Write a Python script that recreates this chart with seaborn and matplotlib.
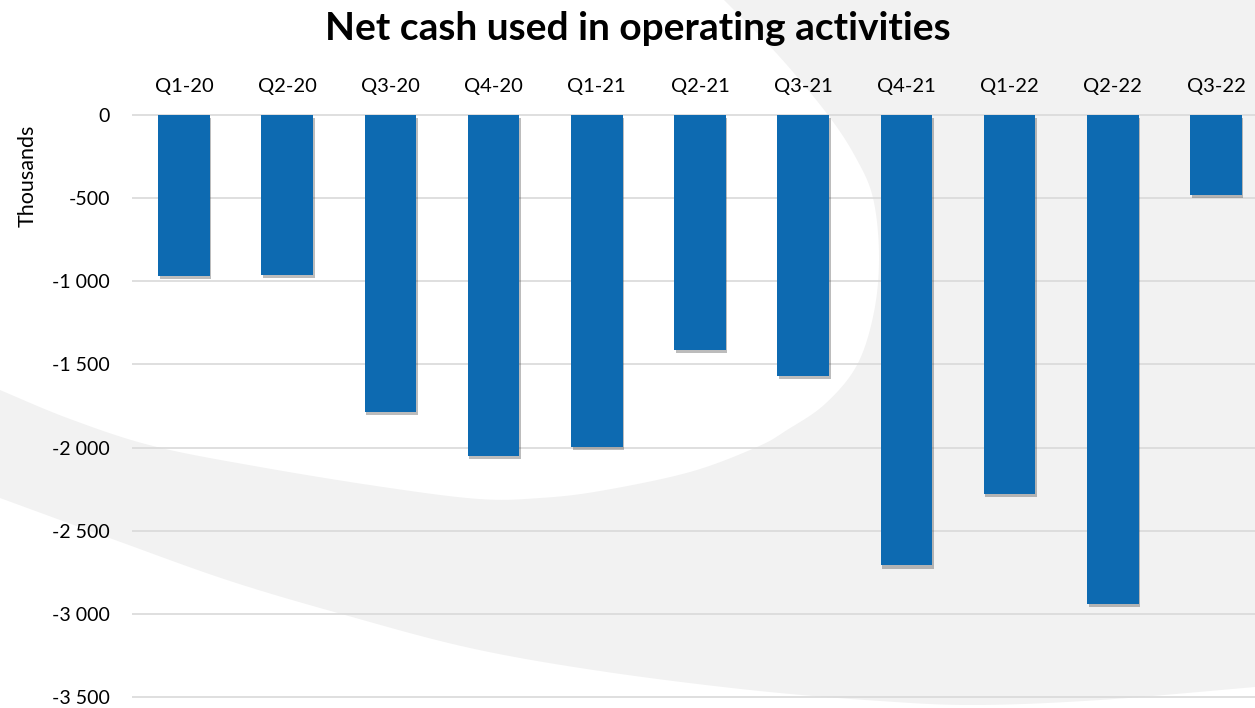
import numpy as np
import matplotlib
matplotlib.use("Agg")
import matplotlib.pyplot as plt
import matplotlib.patheffects as pe
from matplotlib.path import Path
from matplotlib.patches import PathPatch
import seaborn as sns

# ---- data ----
quarters = ["Q1-20", "Q2-20", "Q3-20", "Q4-20", "Q1-21", "Q2-21",
            "Q3-21", "Q4-21", "Q1-22", "Q2-22", "Q3-22"]
net_cash = [-970, -960, -1785, -2050, -1995, -1415,
            -1570, -2710, -2280, -2940, -480]
y_ticks = [0, -500, -1000, -1500, -2000, -2500, -3000, -3500]
title = "Net cash used in operating activities"
unit_label = "Thousands"

W, H = 1255, 708
sns.set_theme(style="white")
plt.rcParams["font.family"] = ["Lato", "DejaVu Sans"]

fig = plt.figure(figsize=(W / 100, H / 100), dpi=100, facecolor="#f2f2f2")


def catmull(pts, n=12):
    pts = np.asarray(pts, float)
    p = np.vstack([pts[0], pts, pts[-1]])
    out = []
    for i in range(1, len(p) - 2):
        p0, p1, p2, p3 = p[i - 1], p[i], p[i + 1], p[i + 2]
        for t in np.linspace(0, 1, n, endpoint=False):
            t2, t3 = t * t, t * t * t
            out.append(0.5 * ((2 * p1) + (-p0 + p2) * t + (2 * p0 - 5 * p1 + 4 * p2 - p3) * t2
                              + (-p0 + 3 * p1 - 3 * p2 + p3) * t3))
    out.append(pts[-1])
    return np.array(out)


def add_white(pts_px):
    pts = np.asarray(pts_px, float)
    xy = np.column_stack([pts[:, 0] / W, 1 - pts[:, 1] / H])
    patch = PathPatch(Path(xy, closed=False), transform=fig.transFigure,
                      facecolor="white", edgecolor="none", zorder=-10)
    fig.patches.append(patch)


# decorative background swooshes (pixel coordinates, top-down)
upper_curve = [(724, 0), (778, 55), (828, 115), (856, 158), (873, 198), (879, 255),
               (874, 312), (857, 365), (825, 404), (787, 430), (757, 447), (690, 472),
               (600, 491), (540, 498), (479, 499), (383, 487), (260, 467), (153, 446),
               (70, 419), (0, 390)]
upper = np.vstack([[(0, 0)], catmull(upper_curve), [(0, 390), (0, 0)]])
add_white(upper)

lower_curve = [(0, 498), (115, 540), (230, 581), (345, 615), (470, 648), (600, 671),
               (750, 690), (880, 701), (977, 705), (1100, 700), (1255, 687)]
lower = np.vstack([catmull(lower_curve), [(1255, 708), (0, 708), (0, 498)]])
add_white(lower)

# ---- axes ----
px_per_unit = 581.4 / 3500
pad_units = 20
top_px = 115.3 - pad_units * px_per_unit
bot_px = 696.7 + pad_units * px_per_unit
left_px = 132.4
ax = fig.add_axes([left_px / W, 1 - bot_px / H, 1 - left_px / W, (bot_px - top_px) / H])
ax.set_facecolor("none")

sns.barplot(x=quarters, y=net_cash, color="#0d6ab1", saturation=1, width=0.5, ax=ax,
            linewidth=0, edgecolor="none")
for bar in ax.patches:
    bar.set_linewidth(0)
    bar.set_edgecolor("none")
    bar.set_path_effects([pe.SimplePatchShadow(offset=(1.2, -2.2), shadow_rgbFace="#404040", alpha=0.35),
                          pe.Normal()])

ax.set_ylim(-3500 - pad_units, pad_units)
ax.set_xlim(-0.5, -0.5 + (W - left_px) / 103.2)
ax.set_yticks(y_ticks)
ax.set_yticklabels([f"{v:,}".replace(",", " ") for v in y_ticks])
ax.yaxis.grid(True, color="#d9d9d9", linewidth=1.2)
ax.xaxis.grid(False)
ax.set_axisbelow(True)
for s in ax.spines.values():
    s.set_visible(False)

ax.xaxis.tick_top()
ax.tick_params(axis="x", length=0, pad=12, labelsize=14.5, labelcolor="black")
ax.tick_params(axis="y", length=0, pad=16, labelsize=14, labelcolor="black")
ax.set_xlabel("")
ax.set_ylabel("")

fig.text(28 / W, 1 - 176 / H, unit_label, rotation=90, ha="center", va="center",
         fontsize=15.5, color="black")
fig.text(637.5 / W, 1 - 28 / H, title, ha="center", va="center",
         fontsize=28, fontweight="bold", color="black")

fig.savefig("out.png", dpi=100)
